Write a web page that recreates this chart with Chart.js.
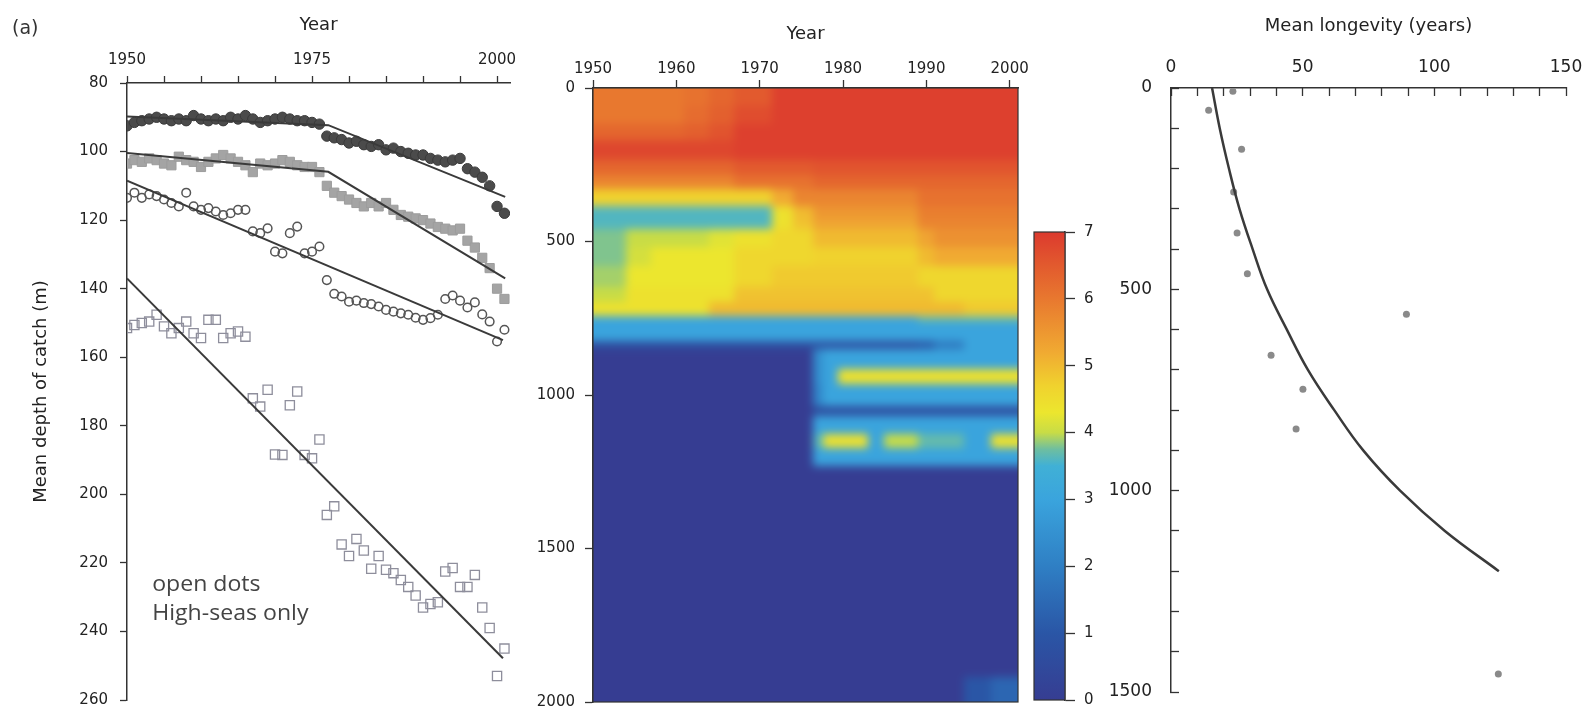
<!DOCTYPE html>
<html>
<head>
<meta charset="utf-8">
<script src="https://cdn.jsdelivr.net/npm/chart.js@4.4.1/dist/chart.umd.min.js"></script>
<style>
  html, body { margin: 0; padding: 0; background: #fff; }
  body { width: 1595px; height: 712px; position: relative; overflow: hidden; }
  canvas { position: absolute; top: 0; }
</style>
</head>
<body>
<canvas id="depthChart" width="520" height="712" style="left:0px"></canvas>
<canvas id="heatChart" width="520" height="712" style="left:520px"></canvas>
<canvas id="barChart" width="100" height="712" style="left:1020px"></canvas>
<canvas id="lifeChart" width="505" height="712" style="left:1090px"></canvas>
<script>
// ---- panel (a): mean depth of catch by year ----
const years = [1950, 1951, 1952, 1953, 1954, 1955, 1956, 1957, 1958, 1959,
    1960, 1961, 1962, 1963, 1964, 1965, 1966, 1967, 1968, 1969,
    1970, 1971, 1972, 1973, 1974, 1975, 1976, 1977, 1978, 1979,
    1980, 1981, 1982, 1983, 1984, 1985, 1986, 1987, 1988, 1989,
    1990, 1991, 1992, 1993, 1994, 1995, 1996, 1997, 1998, 1999,
    2000, 2001]

// filled circles
const depthAllDots = [92.5, 91.5, 91, 90.5, 90, 90.5, 91, 90.5, 91, 89.5,
    90.5, 91, 90.5, 91, 90, 90.5, 89.5, 90.5, 91.5, 91,
    90.5, 90, 90.5, 91, 91, 91.5, 92, 95.5, 96, 96.5,
    97.5, 97, 98, 98.5, 98, 99.5, 99, 100, 100.5, 101,
    101, 102, 102.5, 103, 102.5, 102, 105, 106, 107.5, 110,
    116, 118]
// filled squares
const depthAllSquares = [103.5, 102.5, 103, 102, 102.5, 103.5, 104, 101.5, 102.5, 103,
    104.5, 103, 102, 101, 102, 103, 104, 106, 103.5, 104,
    103.5, 102.5, 103, 104, 104.5, 104.5, 106, 110, 112, 113,
    114, 115, 116, 115, 116, 115, 117, 118.5, 119, 119.5,
    120, 121, 122, 122.5, 123, 122.5, 126, 128, 131, 134,
    140, 143]
// open circles (high seas only)
const depthHighSeasDots = [113.5, 112, 113.5, 112.5, 113, 114, 115, 116, 112, 116,
    117, 116.5, 117.5, 118.5, 118, 117, 117, 123.3, 123.8, 122.4,
    129.2, 129.7, 123.8, 121.9, 129.7, 129.2, 127.7, 137.5, 141.5, 142.3,
    143.8, 143.5, 144.2, 144.5, 145.2, 146.2, 146.7, 147.2, 147.6, 148.5,
    149.1, 148.6, 147.6, 143, 142, 143.5, 145.5, 144, 147.5, 149.6,
    155.4, 152]
// open squares (high seas only)
const depthHighSeasSquares = [151.5, 150.6, 150, 149.6, 147.6, 151, 153, 151.5, 149.6, 153,
    154.4, 149.1, 149.1, 154.4, 153, 152.5, 154, 172, 174.4, 169.5,
    188.4, 188.5, 174, 170, 188.5, 189.5, 184, 206, 203.5, 214.6,
    218, 213, 216.4, 221.7, 218, 222, 223, 225, 227, 229.5,
    233, 232, 231.5, 222.5, 221.5, 227, 227, 223.5, 233, 239,
    253, 245]

// fitted trend lines
const fitYears1 = [1950, 1977.2, 2001.1]
const fitDepth1 = [89.8, 92.3, 113.2]
const fitYears2 = [1950, 1977.2, 2001.1]
const fitDepth2 = [100.4, 105.9, 137]
const fitYears3 = [1950, 2000.8]
const fitDepth3 = [108.5, 155]
const fitYears4 = [1950, 2000.8]
const fitDepth4 = [137, 247.8]

const yearTicksA = [1950, 1955, 1960, 1965, 1970, 1975, 1980, 1985, 1990, 1995, 2000]
const yearLabelsA = [1950, 1975, 2000]
const depthTicksA = [80, 100, 120, 140, 160, 180, 200, 220, 240, 260]
const noteLines = ['open dots', 'High-seas only']

// ---- panel (b): heat map, depth x year ----
const heatYearEdges = [1950, 1954, 1957, 1961, 1964, 1967, 1971.5, 1974, 1976.5, 1977.7,
    1979.4, 1983, 1985, 1989, 1991, 1994.6, 1997.8, 2001]
const heatDepthEdges = [0, 60, 120, 170, 235, 285, 332, 386, 425, 462, 520, 582, 650, 700,
    745, 765, 826, 853, 918, 967, 1038, 1071, 1130, 1174, 1233, 1920, 2000]
const heatValues = [
    [6.0, 6.0, 6.0, 6.1, 6.3, 6.5, 6.9, 6.9, 6.9, 6.9, 6.9, 6.9, 6.9, 6.9, 6.9, 6.9, 6.9],
    [6.0, 6.0, 6.0, 6.2, 6.4, 6.7, 6.9, 6.9, 6.9, 6.9, 6.9, 6.9, 6.9, 6.9, 6.9, 6.9, 6.9],
    [6.3, 6.3, 6.3, 6.4, 6.6, 6.9, 6.9, 6.9, 6.9, 6.9, 6.9, 6.9, 6.9, 6.9, 6.9, 6.9, 6.9],
    [6.8, 6.8, 6.8, 6.8, 6.8, 6.9, 6.9, 6.9, 6.9, 6.9, 6.9, 6.9, 6.9, 6.9, 6.9, 6.9, 6.9],
    [6.3, 6.3, 6.3, 6.3, 6.3, 6.5, 6.5, 6.5, 6.6, 6.6, 6.6, 6.6, 6.6, 6.6, 6.6, 6.6, 6.6],
    [5.8, 5.8, 5.8, 5.8, 5.8, 6.1, 6.1, 6.1, 6.3, 6.3, 6.3, 6.3, 6.3, 6.3, 6.3, 6.3, 6.3],
    [4.7, 4.7, 4.7, 4.7, 4.7, 4.7, 5.2, 5.8, 5.8, 5.8, 5.8, 5.8, 5.8, 6.1, 6.1, 6.1, 6.1],
    [3.6, 3.6, 3.6, 3.6, 3.6, 3.6, 4.4, 5.0, 5.5, 5.5, 5.5, 5.5, 5.5, 5.9, 5.9, 5.9, 5.9],
    [3.6, 3.6, 3.6, 3.6, 3.6, 3.6, 4.4, 4.9, 5.3, 5.3, 5.3, 5.3, 5.3, 5.8, 5.8, 5.8, 5.8],
    [3.8, 4.0, 4.0, 4.0, 4.2, 4.4, 4.6, 4.6, 5.0, 5.0, 5.0, 5.0, 5.0, 5.3, 5.6, 5.6, 5.6],
    [3.8, 4.1, 4.3, 4.3, 4.3, 4.6, 4.6, 4.6, 4.7, 4.7, 4.7, 4.7, 4.7, 5.0, 5.2, 5.2, 5.2],
    [3.9, 4.3, 4.3, 4.3, 4.3, 4.6, 4.8, 4.8, 4.8, 4.8, 4.8, 4.8, 4.8, 4.6, 4.6, 4.6, 4.6],
    [4.0, 4.4, 4.4, 4.4, 4.4, 4.9, 4.9, 4.9, 4.9, 4.9, 4.9, 4.9, 4.9, 4.9, 4.6, 4.6, 4.6],
    [4.4, 4.4, 4.4, 4.4, 5.0, 5.0, 5.0, 5.0, 5.0, 5.0, 5.0, 5.0, 5.0, 5.0, 5.0, 4.8, 4.8],
    [3.1, 3.1, 3.1, 3.1, 3.1, 3.1, 3.1, 3.1, 3.1, 3.1, 3.1, 3.1, 3.1, 3.7, 3.7, 3.7, 3.7],
    [3.0, 3.0, 3.0, 3.0, 3.0, 3.0, 3.0, 3.0, 3.0, 3.0, 3.0, 3.0, 3.0, 3.0, 3.0, 3.0, 3.0],
    [0.7, 0.7, 0.7, 0.7, 0.7, 0.7, 0.7, 0.7, 0.7, 0.7, 0.7, 0.7, 0.7, 1.0, 1.8, 3.0, 3.0],
    [0, 0, 0, 0, 0, 0, 0, 0, 2.4, 3.0, 3.0, 3.0, 3.0, 3.0, 3.0, 3.0, 3.0],
    [0, 0, 0, 0, 0, 0, 0, 0, 2.4, 3.0, 4.4, 4.4, 4.4, 4.4, 4.4, 4.4, 4.4],
    [0, 0, 0, 0, 0, 0, 0, 0, 2.2, 3.0, 3.0, 3.0, 3.0, 3.0, 3.0, 3.0, 3.0],
    [0, 0, 0, 0, 0, 0, 0, 0, 0.7, 0.7, 0.7, 0.7, 0.7, 0.7, 0.7, 0.7, 0.7],
    [0, 0, 0, 0, 0, 0, 0, 0, 3.0, 3.0, 3.0, 3.0, 3.0, 3.0, 3.0, 3.0, 3.0],
    [0, 0, 0, 0, 0, 0, 0, 0, 3.6, 4.4, 4.4, 3.0, 4.0, 3.7, 3.7, 3.0, 4.4],
    [0, 0, 0, 0, 0, 0, 0, 0, 3.0, 3.0, 3.0, 3.0, 3.0, 3.0, 3.0, 3.0, 3.0],
    [0, 0, 0, 0, 0, 0, 0, 0, 0, 0, 0, 0, 0, 0, 0, 0, 0],
    [0, 0, 0, 0, 0, 0, 0, 0, 0, 0, 0, 0, 0, 0, 0, 1.0, 1.4]
]
const yearTicksB = [1950, 1960, 1970, 1980, 1990, 2000]
const depthTicksB = [0, 500, 1000, 1500, 2000]
const barTicks = [0, 1, 2, 3, 4, 5, 6, 7]

// ---- panel (c): mean longevity by depth ----
const curveDepth = [0, 100, 200, 300, 400, 500, 600, 700, 800, 900, 1000, 1100, 1200]
const curveLongevity = [15.6, 18.5, 22, 26, 31, 36.5, 44, 52, 62, 73, 87, 104, 124.5]
const dotDepth = [8, 55, 152, 258, 360, 461, 562, 664, 748, 847, 1455]
const dotLongevity = [23.5, 14.3, 26.8, 23.8, 25.1, 29, 89.4, 38, 50.1, 47.5, 124.3]
const longevityTicks = [0, 10, 20, 30, 40, 50, 60, 70, 80, 90, 100, 110, 120, 130, 140, 150]
const longevityLabels = [0, 50, 100, 150]
const depthTicksC = [0, 100, 200, 300, 400, 500, 600, 700, 800, 900, 1000, 1100, 1200, 1300, 1400, 1500]
const depthLabelsC = [0, 500, 1000, 1500]

// colour map of the heat map / colour bar
const colorStops = [
    [0, [54, 61, 146]], [1, [42, 86, 166]], [2, [47, 127, 196]], [3, [58, 164, 221]],
    [3.5, [64, 176, 214]], [3.75, [110, 190, 160]], [4.0, [200, 220, 70]], [4.3, [236, 230, 46]],
    [4.7, [240, 210, 46]], [5.2, [240, 170, 50]], [6.0, [232, 120, 47]], [6.5, [226, 90, 46]],
    [7.0, [220, 58, 46]]
]

Chart.defaults.font.family = "'DejaVu Sans', sans-serif"
Chart.defaults.font.size = 15
Chart.defaults.color = '#222'
Chart.defaults.animation = false
Chart.defaults.plugins.legend.display = false
Chart.defaults.plugins.tooltip.enabled = false

const pts = (xs, ys) => xs.map((x, i) => ({ x, y: ys[i] }))

function heatColor(v) {
    for (let i = 1; i < colorStops.length; i++) {
        const [v1, c1] = colorStops[i]
        if (v <= v1) {
            const [v0, c0] = colorStops[i - 1]
            const t = (v - v0) / (v1 - v0)
            const c = c0.map((a, k) => Math.round(a + (c1[k] - a) * t))
            return `rgb(${c[0]},${c[1]},${c[2]})`
        }
    }
    return `rgb(${colorStops[colorStops.length - 1][1].join(',')})`
}

// simple separable box blur on rgb, used to soften the cell edges
function boxBlur(img, w, h, r) {
    const d = img.data
    const tmp = new Float32Array(d.length)
    const n = 2 * r + 1
    for (let y = 0; y < h; y++) {
        for (let ch = 0; ch < 3; ch++) {
            let sum = 0
            for (let x = -r; x <= r; x++) sum += d[(y * w + Math.min(w - 1, Math.max(0, x))) * 4 + ch]
            for (let x = 0; x < w; x++) {
                tmp[(y * w + x) * 4 + ch] = sum / n
                const xo = Math.max(0, x - r)
                const xi = Math.min(w - 1, x + r + 1)
                sum += d[(y * w + xi) * 4 + ch] - d[(y * w + xo) * 4 + ch]
            }
        }
    }
    for (let x = 0; x < w; x++) {
        for (let ch = 0; ch < 3; ch++) {
            let sum = 0
            for (let y = -r; y <= r; y++) sum += tmp[(Math.min(h - 1, Math.max(0, y)) * w + x) * 4 + ch]
            for (let y = 0; y < h; y++) {
                d[(y * w + x) * 4 + ch] = sum / n
                const yo = Math.max(0, y - r)
                const yi = Math.min(h - 1, y + r + 1)
                sum += tmp[(yi * w + x) * 4 + ch] - tmp[(yo * w + x) * 4 + ch]
            }
        }
    }
}

// one axis with a fixed tick list and a fixed box size
function axis(o) {
    return {
        type: 'linear',
        position: o.position,
        min: o.min,
        max: o.max,
        reverse: !!o.reverse,
        border: { display: true, color: '#333', width: 1.5 },
        grid: { display: true, drawOnChartArea: false, drawTicks: true, tickLength: o.tick, tickColor: '#333', tickWidth: 1.3 },
        ticks: {
            padding: o.pad, autoSkip: false, maxRotation: 0,
            font: { size: o.font || 15 },
            callback: (v) => (o.labels.includes(v) ? String(v) : '')
        },
        afterBuildTicks: (s) => { s.ticks = o.values.map((v) => ({ value: v })) },
        afterFit: (s) => {
            if (s.isHorizontal()) s.height = o.size
            else s.width = o.size
            // keep the plot area where the layout padding puts it
            s.paddingTop = s.paddingBottom = s.paddingLeft = s.paddingRight = 0
        },
        title: o.title
            ? { display: true, text: o.title, color: '#222', font: { size: 18 }, padding: { top: o.titlePad, bottom: 0 } }
            : { display: false }
    }
}

const notePlugin = {
    id: 'note',
    afterDraw(chart) {
        const { ctx, scales: { x, y } } = chart
        ctx.save()
        ctx.fillStyle = '#444'
        ctx.font = "21px 'Open Sans'"
        const lx = x.getPixelForValue(1953.4)
        const baselines = [228.1, 236.6]
        noteLines.forEach((t, i) => {
            ctx.save()
            ctx.translate(lx, y.getPixelForValue(baselines[i]))
            ctx.scale(1.1, 1)
            ctx.fillText(t, 0, 0)
            ctx.restore()
        })
        ctx.font = "19px 'DejaVu Sans'"
        ctx.fillStyle = '#333'
        ctx.fillText('(a)', 12, 34)
        ctx.restore()
    }
}

const heatPlugin = {
    id: 'heat',
    beforeDatasetsDraw(chart) {
        const { ctx, chartArea: a, scales: { x, y } } = chart
        const pad = 20
        const W = Math.ceil(a.width) + pad * 2
        const H = Math.ceil(a.height) + pad * 2
        const off = document.createElement('canvas')
        off.width = W
        off.height = H
        const o = off.getContext('2d')
        const nr = heatValues.length
        const nc = heatYearEdges.length - 1
        for (let r = 0; r < nr; r++) {
            const y0 = r === 0 ? 0 : y.getPixelForValue(heatDepthEdges[r]) - a.top + pad
            const y1 = r === nr - 1 ? H : y.getPixelForValue(heatDepthEdges[r + 1]) - a.top + pad
            for (let c = 0; c < nc; c++) {
                const x0 = c === 0 ? 0 : x.getPixelForValue(heatYearEdges[c]) - a.left + pad
                const x1 = c === nc - 1 ? W : x.getPixelForValue(heatYearEdges[c + 1]) - a.left + pad
                o.fillStyle = heatColor(heatValues[r][c])
                o.fillRect(Math.floor(x0), Math.floor(y0), Math.ceil(x1 - x0) + 1, Math.ceil(y1 - y0) + 1)
            }
        }
        const img = o.getImageData(0, 0, W, H)
        boxBlur(img, W, H, 4)
        boxBlur(img, W, H, 4)
        boxBlur(img, W, H, 3)
        o.putImageData(img, 0, 0)
        ctx.save()
        ctx.beginPath()
        ctx.rect(a.left, a.top, a.width, a.height)
        ctx.clip()
        ctx.drawImage(off, a.left - pad, a.top - pad)
        ctx.restore()
    },
    afterDraw(chart) {
        const { ctx, chartArea: a } = chart
        ctx.save()
        ctx.strokeStyle = '#333'
        ctx.lineWidth = 1.2
        ctx.strokeRect(a.left, a.top, a.width, a.height)
        ctx.restore()
    }
}

const barPlugin = {
    id: 'colorbar',
    beforeDatasetsDraw(chart) {
        const { ctx, chartArea: a, scales: { y } } = chart
        const g = ctx.createLinearGradient(0, y.getPixelForValue(y.min), 0, y.getPixelForValue(y.max))
        colorStops.forEach(([v, c]) => g.addColorStop((v - y.min) / (y.max - y.min), `rgb(${c.join(',')})`))
        ctx.save()
        ctx.fillStyle = g
        ctx.fillRect(a.left, a.top, a.width, a.height)
        ctx.strokeStyle = '#333'
        ctx.lineWidth = 1.2
        ctx.strokeRect(a.left, a.top, a.width, a.height)
        ctx.restore()
    }
}

const lineStyle = { showLine: true, borderColor: '#3a3a3a', borderWidth: 2, pointRadius: 0, order: 0 }

new Chart(document.getElementById('depthChart'), {
    type: 'scatter',
    data: {
        datasets: [
            { data: pts(fitYears1, fitDepth1), ...lineStyle },
            { data: pts(fitYears2, fitDepth2), ...lineStyle },
            { data: pts(fitYears3, fitDepth3), ...lineStyle },
            { data: pts(fitYears4, fitDepth4), ...lineStyle },
            {
                data: pts(years, depthAllDots), order: 1, pointStyle: 'circle', pointRadius: 5.2,
                pointBackgroundColor: '#4b4b4b', pointBorderColor: '#3a3a3a', pointBorderWidth: 1
            },
            {
                data: pts(years, depthAllSquares), order: 1, pointStyle: 'rect', pointRadius: 6.5,
                pointBackgroundColor: '#a4a4a4', pointBorderColor: '#9c9c9c', pointBorderWidth: 1
            },
            {
                data: pts(years, depthHighSeasDots), order: 1, pointStyle: 'circle', pointRadius: 4.3,
                pointBackgroundColor: 'rgba(255,255,255,0)', pointBorderColor: '#555', pointBorderWidth: 1.5
            },
            {
                data: pts(years, depthHighSeasSquares), order: 1, pointStyle: 'rect', pointRadius: 6.5,
                pointBackgroundColor: 'rgba(255,255,255,0)', pointBorderColor: '#8e8e9c', pointBorderWidth: 1.3
            }
        ]
    },
    options: {
        responsive: false,
        layout: { padding: { left: 0, right: 10, top: 0, bottom: 12 } },
        scales: {
            x: axis({ position: 'top', min: 1950, max: 2001.75, values: yearTicksA, labels: yearLabelsA, tick: 7, pad: 7, size: 83, title: 'Year', titlePad: 15 }),
            y: axis({ position: 'left', min: 80, max: 260, reverse: true, values: depthTicksA, labels: depthTicksA, tick: 7, pad: 12, size: 127, title: 'Mean depth of catch (m)', titlePad: 31 })
        }
    },
    plugins: [notePlugin]
})

new Chart(document.getElementById('heatChart'), {
    type: 'scatter',
    data: { datasets: [] },
    options: {
        responsive: false,
        layout: { padding: { left: 0, right: 22, top: 0, bottom: 10 } },
        scales: {
            x: axis({ position: 'top', min: 1950, max: 2001, values: yearTicksB, labels: yearTicksB, tick: 8, pad: 2, size: 88, title: 'Year', titlePad: 24 }),
            y: axis({ position: 'left', min: 0, max: 2000, reverse: true, values: depthTicksB, labels: depthTicksB, tick: 8, pad: 10, size: 73 })
        }
    },
    plugins: [heatPlugin]
})

new Chart(document.getElementById('barChart'), {
    type: 'scatter',
    data: { datasets: [] },
    options: {
        responsive: false,
        layout: { padding: { left: 14, right: 0, top: 232, bottom: 12 } },
        scales: {
            x: { display: false, min: 0, max: 1 },
            y: axis({ position: 'right', min: 0, max: 7, values: barTicks, labels: barTicks, tick: 10, pad: 9, size: 55 })
        }
    },
    plugins: [barPlugin]
})

new Chart(document.getElementById('lifeChart'), {
    type: 'scatter',
    data: {
        datasets: [
            { data: pts(curveLongevity, curveDepth), showLine: true, tension: 0.4, borderColor: '#3a3a3a', borderWidth: 2.5, pointRadius: 0, order: 0 },
            { data: pts(dotLongevity, dotDepth), order: 1, pointRadius: 3.5, pointBackgroundColor: '#8a8a8a', pointBorderWidth: 0 }
        ]
    },
    options: {
        responsive: false,
        layout: { padding: { left: 0, right: 29, top: 0, bottom: 20 } },
        scales: {
            x: axis({ position: 'top', min: 0, max: 150, values: longevityTicks, labels: longevityLabels, tick: -8, pad: 18, size: 88, font: 17, title: 'Mean longevity (years)', titlePad: 16 }),
            y: axis({ position: 'left', min: 0, max: 1500, reverse: true, values: depthTicksC, labels: depthLabelsC, tick: -8, pad: 27, size: 81, font: 17 })
        }
    }
})
</script>
</body>
</html>
